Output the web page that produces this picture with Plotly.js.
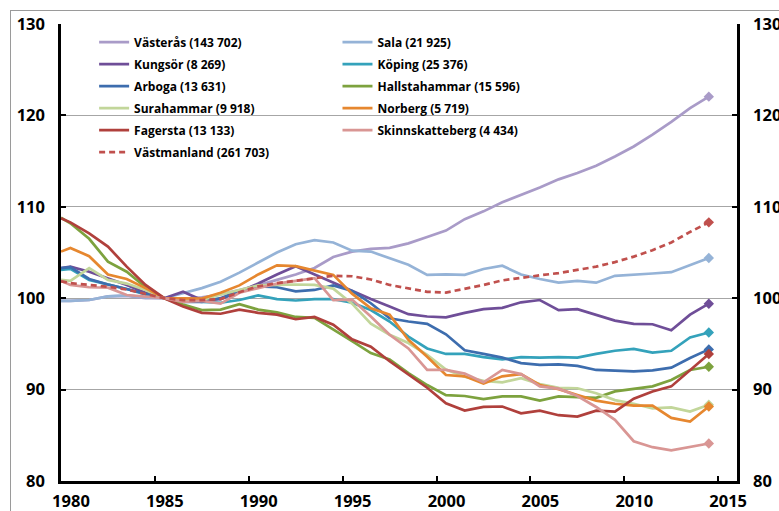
<!DOCTYPE html>
<html>
<head>
<meta charset="utf-8">
<script src="https://cdn.plot.ly/plotly-3.0.1.min.js"></script>
<style>
html,body{margin:0;padding:0;background:#fff;overflow:hidden;}
#wrap{position:relative;width:779px;height:511px;}
#chart{width:779px;height:511px;}
#frame{position:absolute;left:10px;top:10px;width:900px;height:700px;border-top:1px solid #9A9A9A;border-left:1px solid #9A9A9A;pointer-events:none;}
</style>
</head>
<body>
<div id="wrap"><div id="chart"></div><div id="frame"></div></div>
<script>
// x positions: left edge 1980, then mid-year points 1980.5 ... 2014.5
const years = [1980, 1980.5, 1981.5, 1982.5, 1983.5, 1984.5, 1985.5, 1986.5, 1987.5, 1988.5, 1989.5,
  1990.5, 1991.5, 1992.5, 1993.5, 1994.5, 1995.5, 1996.5, 1997.5, 1998.5, 1999.5,
  2000.5, 2001.5, 2002.5, 2003.5, 2004.5, 2005.5, 2006.5, 2007.5, 2008.5, 2009.5,
  2010.5, 2011.5, 2012.5, 2013.5, 2014.5];

const vasteras = [99.7, 99.7, 99.8, 100.2, 100.25, 100.0, 100.0, 99.9, 100.1, 100.4, 100.9, 101.4, 102.0, 102.6, 103.3, 104.5, 105.1, 105.4, 105.5, 106.0, 106.7, 107.4, 108.65, 109.5, 110.5, 111.3, 112.1, 113.0, 113.7, 114.5, 115.5, 116.6, 117.9, 119.3, 120.8, 122.05];
const sala = [99.7, 99.7, 99.8, 100.2, 100.3, 100.1, 100.0, 100.55, 101.1, 101.8, 102.8, 103.9, 105.0, 105.9, 106.35, 106.1, 105.2, 105.1, 104.4, 103.65, 102.55, 102.6, 102.55, 103.2, 103.55, 102.6, 102.1, 101.7, 101.9, 101.7, 102.45, 102.55, 102.7, 102.85, 103.65, 104.4];
const kungsor = [103.3, 103.45, 102.9, 102.2, 101.45, 100.6, 100.0, 100.7, 99.8, 99.9, 100.7, 101.6, 102.6, 103.5, 102.6, 101.7, 100.8, 99.9, 99.1, 98.25, 98.0, 97.9, 98.4, 98.8, 98.95, 99.55, 99.8, 98.7, 98.8, 98.2, 97.55, 97.2, 97.15, 96.5, 98.2, 99.4];
const koping = [103.1, 103.2, 102.0, 101.5, 101.0, 100.4, 100.0, 99.8, 99.6, 99.5, 99.8, 100.3, 99.9, 99.75, 99.9, 99.9, 99.5, 98.7, 97.45, 95.8, 94.5, 93.9, 93.9, 93.55, 93.3, 93.55, 93.5, 93.55, 93.5, 93.9, 94.25, 94.45, 94.05, 94.25, 95.7, 96.25];
const arboga = [103.3, 103.4, 102.1, 101.5, 101.0, 100.5, 100.0, 99.6, 99.6, 100.0, 100.8, 101.3, 101.2, 100.75, 100.9, 101.4, 100.8, 99.45, 97.8, 97.45, 97.2, 96.05, 94.3, 93.9, 93.5, 92.9, 92.7, 92.75, 92.6, 92.15, 92.1, 92.0, 92.1, 92.4, 93.45, 94.4];
const hallstahammar = [108.8, 108.2, 106.5, 104.0, 102.9, 101.2, 100.0, 99.3, 98.7, 98.75, 99.35, 98.75, 98.45, 97.95, 97.85, 96.6, 95.3, 94.0, 93.3, 91.8, 90.5, 89.4, 89.3, 88.95, 89.25, 89.25, 88.8, 89.25, 89.2, 89.1, 89.8, 90.05, 90.35, 91.05, 92.15, 92.5];
const surahammar = [102.0, 101.9, 103.3, 102.0, 101.6, 100.9, 100.0, 99.8, 99.8, 100.4, 100.9, 101.4, 101.45, 101.5, 101.45, 101.05, 99.4, 97.2, 96.0, 95.1, 93.8, 92.2, 91.4, 90.95, 90.8, 91.25, 90.6, 90.2, 90.15, 89.6, 88.85, 88.45, 87.95, 88.05, 87.6, 88.35];
const norberg = [105.1, 105.5, 104.6, 102.6, 102.1, 101.1, 100.0, 99.95, 99.95, 100.6, 101.4, 102.6, 103.6, 103.5, 103.0, 102.55, 100.5, 98.9, 98.2, 95.45, 93.6, 91.6, 91.45, 90.65, 91.45, 91.7, 90.5, 90.05, 89.4, 88.8, 88.45, 88.25, 88.25, 86.9, 86.5, 88.15];
const fagersta = [108.75, 108.3, 107.1, 105.65, 103.45, 101.45, 100.0, 99.1, 98.4, 98.3, 98.75, 98.4, 98.2, 97.7, 97.95, 97.1, 95.5, 94.7, 93.1, 91.6, 90.2, 88.5, 87.7, 88.1, 88.15, 87.4, 87.7, 87.2, 87.05, 87.7, 87.6, 89.0, 89.8, 90.35, 92.15, 93.9];
const skinnskatteberg = [101.9, 101.45, 101.2, 101.15, 100.35, 100.2, 100.0, 99.6, 99.7, 99.4, 100.6, 101.1, 101.6, 101.9, 102.2, 99.8, 99.85, 98.0, 96.0, 94.5, 92.15, 92.15, 91.75, 90.8, 92.15, 91.7, 90.35, 90.1, 89.3, 88.1, 86.7, 84.35, 83.7, 83.35, 83.7, 84.1];
const vastmanland = [101.85, 101.65, 101.45, 101.25, 100.95, 100.5, 100.0, 99.8, 99.8, 99.9, 100.65, 101.3, 101.65, 101.9, 102.15, 102.45, 102.4, 102.05, 101.45, 101.05, 100.7, 100.62, 101.0, 101.45, 101.95, 102.25, 102.5, 102.75, 103.1, 103.45, 103.95, 104.55, 105.25, 106.1, 107.25, 108.3];

const names = ['Västerås (143 702)', 'Sala (21 925)', 'Kungsör (8 269)', 'Köping (25 376)', 'Arboga (13 631)',
  'Hallstahammar (15 596)', 'Surahammar (9 918)', 'Norberg (5 719)', 'Fagersta (13 133)',
  'Skinnskatteberg (4 434)', 'Västmanland (261 703)'];
const series = [vasteras, sala, kungsor, koping, arboga, hallstahammar, surahammar, norberg, fagersta, skinnskatteberg, vastmanland];
const colors = ['#A99BC8', '#95B3D7', '#6F4E98', '#34A2BB', '#3D6DAE', '#7DA23E', '#C2D69A', '#E6872F', '#B0403C', '#D99694', '#C0504D'];
const legendOf = ['legend', 'legend2', 'legend', 'legend2', 'legend', 'legend2', 'legend', 'legend2', 'legend', 'legend2', 'legend'];

const tickYears = [1980, 1985, 1990, 1995, 2000, 2005, 2010, 2015];
const tickVals = [80, 90, 100, 110, 120, 130];

const traces = [];
series.forEach((s, i) => {
  const dashed = i === 10;
  traces.push({
    x: years, y: s, type: 'scatter', mode: 'lines', name: names[i],
    legend: legendOf[i], legendgroup: 'g' + i,
    line: {color: colors[i], width: 2.7, dash: dashed ? '6px,4px' : 'solid'},
    hoverinfo: 'skip'
  });
  traces.push({
    x: [years[years.length - 1]], y: [s[s.length - 1]], type: 'scatter', mode: 'markers',
    legend: legendOf[i], legendgroup: 'g' + i, showlegend: false,
    marker: {symbol: 'diamond', size: 8, color: colors[i]}, hoverinfo: 'skip'
  });
});
// invisible carrier so the overlay axes (right-hand y, label-only x) are built
traces.push({
  x: years, y: vastmanland, xaxis: 'x2', yaxis: 'y2', type: 'scatter', mode: 'lines',
  showlegend: false, opacity: 0, line: {width: 0.1, color: '#fff'}, hoverinfo: 'skip'
});

const FONT = 'Open Sans, Noto Sans, sans-serif';
const legFont = {family: FONT, size: 12, color: '#000', weight: 'bold'};
const tickFont = {family: FONT, size: 16.5, color: '#000', weight: 'bold'};
const CLEAR = 'rgba(0,0,0,0)';

const layout = {
  width: 779, height: 511,
  margin: {l: 61, r: 42, t: 24, b: 30},
  paper_bgcolor: 'rgba(0,0,0,0)', plot_bgcolor: '#ffffff',
  showlegend: true,
  font: {family: FONT, color: '#000'},
  // main x: axis line + inside tick marks
  xaxis: {
    range: [1980, 2016], tickmode: 'array', tickvals: tickYears,
    showgrid: false, zeroline: false, showticklabels: false,
    showline: true, linecolor: '#000000', linewidth: 2.5,
    ticks: 'inside', ticklen: 5, tickwidth: 2, tickcolor: '#000000'
  },
  // overlay x: the year labels (set slightly right of the tick marks, as in the original)
  xaxis2: {
    overlaying: 'x', anchor: 'y', side: 'bottom',
    range: [1979.47, 2015.47], tickmode: 'array', tickvals: tickYears, ticktext: tickYears.map(String),
    showgrid: false, zeroline: false, showline: false,
    ticks: 'outside', ticklen: 5, tickcolor: CLEAR,
    tickfont: tickFont
  },
  yaxis: {
    range: [80, 130], tickmode: 'array', tickvals: tickVals, ticktext: tickVals.map(String),
    showgrid: true, gridcolor: '#A6A6A6', gridwidth: 1, zeroline: false,
    showline: true, linecolor: '#000000', linewidth: 2.5,
    ticks: 'outside', ticklen: 10, tickwidth: 1, tickcolor: CLEAR,
    tickfont: tickFont
  },
  yaxis2: {
    overlaying: 'y', side: 'right', anchor: 'x', mirror: 'ticks',
    range: [80, 130], tickmode: 'array', tickvals: tickVals, ticktext: tickVals.map(String),
    showgrid: false, zeroline: false,
    showline: true, linecolor: '#000000', linewidth: 2.5,
    ticks: 'inside', ticklen: 5, tickwidth: 2, tickcolor: '#000000',
    tickfont: tickFont, ticklabelstandoff: 10
  },
  legend: {
    x: 0.049, y: 0.992, xanchor: 'left', yanchor: 'top',
    bgcolor: CLEAR, borderwidth: 0, font: legFont,
    tracegroupgap: 3, traceorder: 'grouped'
  },
  legend2: {
    x: 0.409, y: 0.992, xanchor: 'left', yanchor: 'top',
    bgcolor: CLEAR, borderwidth: 0, font: legFont,
    tracegroupgap: 3, traceorder: 'grouped'
  }
};

Plotly.newPlot('chart', traces, layout, {displayModeBar: false});
</script>
</body>
</html>
